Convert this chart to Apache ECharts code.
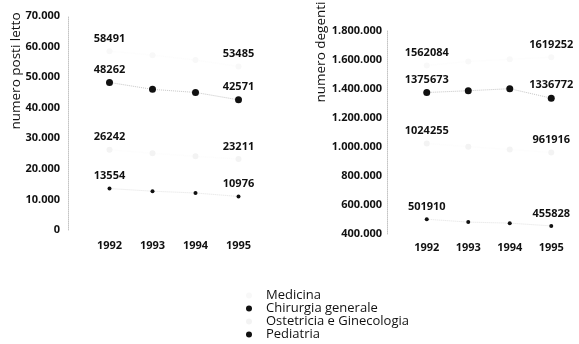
<!DOCTYPE html>
<html>
<head>
<meta charset="utf-8">
<script src="https://cdn.jsdelivr.net/npm/echarts@6/dist/echarts.min.js"></script>
<style>
  html, body { margin: 0; padding: 0; background: #fff; }
  #chart { width: 579px; height: 344px; }
</style>
</head>
<body>
<div id="chart"></div>
<script>
// Anni di riferimento
const years = ['1992', '1993', '1994', '1995'];
const seriesNames = ['Medicina', 'Chirurgia generale', 'Ostetricia e Ginecologia', 'Pediatria'];

// Posti letto per area
const postiMedicina = [58491, 57200, 55600, 53485];
const postiChirurgia = [48262, 46000, 45000, 42571];
const postiOstetricia = [26242, 25100, 24100, 23211];
const postiPediatria = [13554, 12700, 12100, 10976];

// Degenti per area
const degentiMedicina = [1562084, 1590000, 1605000, 1619252];
const degentiChirurgia = [1375673, 1388000, 1402000, 1336772];
const degentiOstetricia = [1024255, 1002000, 983000, 961916];
const degentiPediatria = [501910, 482000, 475000, 455828];

const FONT = "'Open Sans', 'DejaVu Sans', sans-serif";

// Stile per area: le serie chiare quasi scompaiono sul bianco
const styles = [
  { color: '#f8f8f8', line: '#fcfcfc', size: 6, dist: 4 },
  { color: '#111111', line: '#c6c6c6', size: 7, dist: 4 },
  { color: '#f3f3f3', line: '#fcfcfc', size: 6, dist: 4 },
  { color: '#111111', line: '#e2e2e2', size: 4, dist: 5 }
];

// Etichetta soltanto per il primo e l'ultimo anno
function endLabel(p) {
  return (p.dataIndex === 0 || p.dataIndex === years.length - 1) ? String(p.value) : '';
}

function thousands(v) {
  return String(v).replace(/\B(?=(\d{3})+(?!\d))/g, '.');
}

function makeSeries(name, values, idx, axis) {
  const s = styles[idx];
  return {
    name: name,
    type: 'line',
    xAxisIndex: axis,
    yAxisIndex: axis,
    data: values,
    symbol: 'circle',
    symbolSize: s.size,
    itemStyle: { color: s.color },
    lineStyle: { color: s.line, width: 1, type: 'dotted' },
    label: {
      show: true,
      position: 'top',
      distance: s.dist,
      formatter: endLabel,
      color: '#111',
      fontFamily: FONT,
      fontSize: 11,
      fontWeight: 'bold'
    },
    emphasis: { disabled: true },
    animation: false,
    z: idx === 1 || idx === 3 ? 3 : 2
  };
}

const postiSets = [postiMedicina, postiChirurgia, postiOstetricia, postiPediatria];
const degentiSets = [degentiMedicina, degentiChirurgia, degentiOstetricia, degentiPediatria];

const series = [];
seriesNames.forEach((n, i) => series.push(makeSeries(n, postiSets[i], i, 0)));
seriesNames.forEach((n, i) => series.push(makeSeries(n, degentiSets[i], i, 1)));

const axisLabelStyle = {
  color: '#111', fontFamily: FONT, fontSize: 11, fontWeight: 'bold'
};

const chart = echarts.init(document.getElementById('chart'), null, { renderer: 'canvas' });
chart.setOption({
  animation: false,
  backgroundColor: '#ffffff',
  grid: [
    { left: 88, right: 319, top: 16, bottom: 114 },
    { left: 406, right: 7, top: 31, bottom: 110 }
  ],
  xAxis: [0, 1].map(i => ({
    type: 'category',
    gridIndex: i,
    data: years,
    boundaryGap: true,
    axisLine: { show: false },
    axisTick: { show: false },
    axisLabel: Object.assign({ margin: i === 0 ? 10 : 8 }, axisLabelStyle),
    splitLine: { show: false }
  })),
  yAxis: [
    {
      type: 'value', gridIndex: 0, min: 0, max: 70000, interval: 10000,
      offset: 20,
      axisLine: { show: true, lineStyle: { color: '#c4c4c4', type: 'dotted', width: 1 } },
      axisTick: { show: false },
      splitLine: { show: false },
      axisLabel: Object.assign({ margin: 8, formatter: thousands }, axisLabelStyle)
    },
    {
      type: 'value', gridIndex: 1, min: 400000, max: 1800000, interval: 200000,
      offset: 19,
      axisLine: { show: true, lineStyle: { color: '#c4c4c4', type: 'dotted', width: 1 } },
      axisTick: { show: false },
      splitLine: { show: false },
      axisLabel: Object.assign({ margin: 5, formatter: thousands }, axisLabelStyle)
    }
  ],
  legend: {
    orient: 'vertical',
    left: 246,
    top: 289,
    padding: 0,
    itemGap: 0,
    itemWidth: 14,
    itemHeight: 6,
    icon: 'circle',
    selectedMode: false,
    textStyle: { color: '#111', fontFamily: FONT, fontSize: 13, lineHeight: 12.5, padding: [0, 0, 0, 5] },
    data: seriesNames.map((n, i) => ({ name: n, itemStyle: { color: styles[i].color } }))
  },
  graphic: [
    {
      type: 'text', x: 16, y: 71, rotation: Math.PI / 2,
      style: { text: 'numero posti letto', fill: '#111', font: '500 13.5px ' + FONT, align: 'center', verticalAlign: 'middle' }
    },
    {
      type: 'text', x: 321, y: 52, rotation: Math.PI / 2,
      style: { text: 'numero degenti', fill: '#111', font: '500 13.5px ' + FONT, align: 'center', verticalAlign: 'middle' }
    }
  ],
  series: series
});
</script>
</body>
</html>
